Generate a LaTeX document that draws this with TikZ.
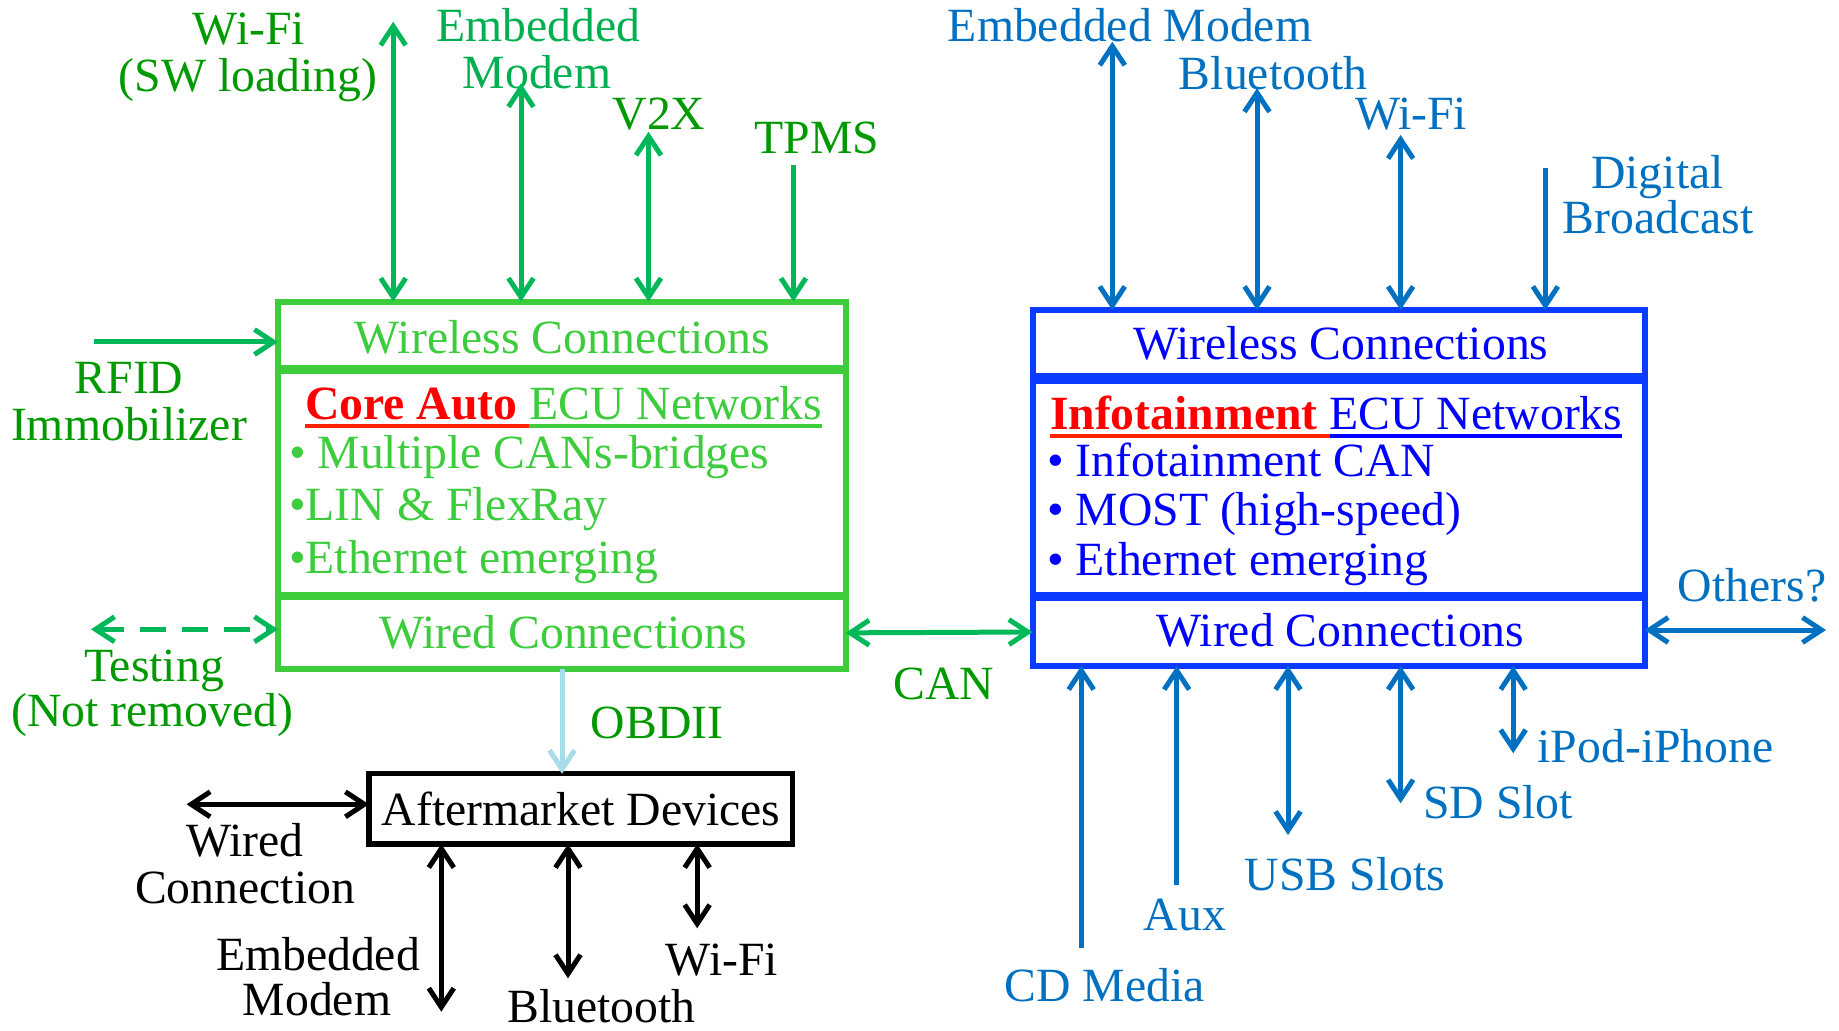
\documentclass[tikz,border=0pt]{standalone}
\usepackage{fontspec}
\setmainfont{Liberation Serif}
\usetikzlibrary{arrows.meta}
\definecolor{gdark}{HTML}{009900}
\definecolor{glight}{HTML}{00B050}
\definecolor{gframe}{HTML}{3CCC3C}
\definecolor{garrow}{HTML}{00B85A}
\definecolor{bline}{HTML}{0070C0}
\definecolor{bframe}{HTML}{0A3CFF}
\definecolor{btext}{HTML}{0000FF}
\definecolor{obdcol}{HTML}{A8DCE8}
\definecolor{ulred}{HTML}{FF2200}
\tikzset{
  hb/.tip={Straight Barb[length=9.5pt,width=12.5pt]},
  lbl/.style={inner sep=0pt, outer sep=0pt, anchor=base},
  lblw/.style={inner sep=0pt, outer sep=0pt, anchor=base west},
  frame/.style={draw, line width=3pt, inner sep=0pt, outer sep=0pt},
  conn/.style={line width=2.5pt},
  one/.style={conn, -hb},
  two/.style={conn, hb-hb},
}
\begin{document}
\begin{tikzpicture}[x=0.5pt,y=-0.5pt,every node/.style={font=\fontsize{23.85}{28}\selectfont}]
\useasboundingbox (0,0) rectangle (1839,1031);

% ---------- left (core auto) block ----------
\node[frame, draw=gframe, minimum width=283.8pt, minimum height=33.15pt] (lwl) at (561.8,334.85) {};
\node[frame, draw=gframe, minimum width=283.8pt, minimum height=112pt] (lcore) at (561.8,483) {};
\node[frame, draw=gframe, minimum width=283.8pt, minimum height=35.85pt] (lwired) at (561.8,632.85) {};

\node[lbl, text=gframe] (lwlt) at (562.5,353.3) {Wireless Connections};
\node[lblw, text=red] (coreA) at (305,419.3) {\textbf{Core Auto}\kern0.25em};
\node[lblw, text=gframe] (coreB) at (coreA.base east) {ECU Networks};
\draw[ulred, line width=2pt] ([yshift=-3.4pt]coreA.base west) -- ([yshift=-3.4pt]coreA.base east);
\draw[gframe, line width=2pt] ([yshift=-3.4pt]coreB.base west) -- ([yshift=-3.4pt]coreB.base east);
\node[lblw, text=gframe] (lb1) at (289,468.3) {• Multiple CANs-bridges};
\node[lblw, text=gframe] (lb2) at (289,520) {•LIN \& FlexRay};
\node[lblw, text=gframe] (lb3) at (289,573.3) {•Ethernet emerging};
\node[lbl, text=gframe] (lwiredt) at (563,648.3) {Wired Connections};

% top green labels and arrows
\node[lbl, text=gdark] (wifiA) at (249,45) {Wi-Fi};
\node[lbl, text=gdark] (wifiB) at (248,91.7) {(SW loading)};
\node[lbl, text=glight] (emA) at (538.5,41.7) {Embedded};
\node[lbl, text=glight] (emB) at (537,88.3) {Modem};
\node[lbl, text=gdark] (v2x) at (659,130) {V2X};
\node[lbl, text=gdark] (tpms) at (817,153.3) {TPMS};
\coordinate (gA) at (393.2,21.7);
\coordinate (gB) at (521,83.3);
\coordinate (gC) at (648.5,131.7);
\coordinate (gD) at (793.4,165);
\draw[two, garrow] (gA) -- (gA |- lwl.north);
\draw[two, garrow] (gB) -- (gB |- lwl.north);
\draw[two, garrow] (gC) -- (gC |- lwl.north);
\draw[one, garrow] (gD) -- (gD |- lwl.north);

% RFID
\node[lbl, text=gdark] (rfA) at (129,393.3) {RFID};
\node[lbl, text=gdark] (rfB) at (129,440) {Immobilizer};
\coordinate (rf) at (94,342);
\draw[one, garrow] (rf) -- (rf -| lwl.west);

% Testing
\node[lbl, text=gdark] (tsA) at (154,681.7) {Testing};
\node[lbl, text=gdark] (tsB) at (152.5,726.7) {(Not removed)};
\coordinate (tst) at (91,629.3);
\draw[two, garrow, dash pattern=on 13pt off 8pt] (tst) -- (tst -| lwired.west);

% right block frames and CAN
\node[frame, draw=bframe, minimum width=306.05pt, minimum height=33pt] (rwl) at (1338.55,343) {};
\node[frame, draw=bframe, minimum width=306.05pt, minimum height=107pt] (rcore) at (1338.55,488) {};
\node[frame, draw=bframe, minimum width=306.05pt, minimum height=34pt] (rwired) at (1338.55,632) {};
\draw[two, garrow] (lwired.east) -- (rwired.west);
\node[lbl, text=gdark] (can) at (944,699) {CAN};

% OBDII and aftermarket
\node[frame, draw=black, line width=2.6pt, minimum width=211.85pt, minimum height=35.15pt] (am) at (580.8,808.9) {};
\node[lbl] (amt) at (581,825) {Aftermarket Devices};
\coordinate (obdx) at (562,700);
\draw[one, obdcol] (obdx |- lwired.south) -- (obdx |- am.north);
\node[lbl, text=gdark] (obd) at (657,738.3) {OBDII};

\coordinate (wc) at (186.6,804.3);
\draw[two] (wc) -- (wc -| am.west);
\node[lbl] (wcA) at (245,856.7) {Wired};
\node[lbl] (wcB) at (245,903.3) {Connection};
\coordinate (kem) at (441.3,1011.7);
\coordinate (kbt) at (568,978.3);
\coordinate (kwf) at (697.2,928.3);
\draw[two] (kem |- am.south) -- (kem);
\draw[two] (kbt |- am.south) -- (kbt);
\draw[two] (kwf |- am.south) -- (kwf);
\node[lbl] (kemA) at (318,970) {Embedded};
\node[lbl] (kemB) at (317,1015) {Modem};
\node[lbl] (kbtt) at (601.5,1022) {Bluetooth};
\node[lbl] (kwft) at (722,975) {Wi-Fi};

% ---------- right (infotainment) block ----------
\node[lbl, text=btext] (rwlt) at (1340.7,360) {Wireless Connections};
\node[lblw, text=red] (infA) at (1050,429.3) {\textbf{Infotainment}\kern0.25em};
\node[lblw, text=btext] (infB) at (infA.base east) {ECU Networks};
\draw[ulred, line width=2pt] ([yshift=-3.6pt]infA.base west) -- ([yshift=-3.6pt]infA.base east);
\draw[btext, line width=2pt] ([yshift=-3.6pt]infB.base west) -- ([yshift=-3.6pt]infB.base east);
\node[lblw, text=btext] (rb1) at (1047,476.7) {• Infotainment CAN};
\node[lblw, text=btext] (rb2) at (1047,525) {• MOST (high-speed)};
\node[lblw, text=btext] (rb3) at (1047,575) {• Ethernet emerging};
\node[lbl, text=btext] (rwiredt) at (1340.5,646) {Wired Connections};

% top blue
\node[lbl, text=bline] (bemt) at (1130,41.7) {Embedded Modem};
\node[lbl, text=bline] (bbtt) at (1273,90) {Bluetooth};
\node[lbl, text=bline] (bwft) at (1411,129.3) {Wi-Fi};
\node[lbl, text=bline] (dgA) at (1657.5,188.3) {Digital};
\node[lbl, text=bline] (dgB) at (1658,233.3) {Broadcast};
\coordinate (bA) at (1112.3,41.7);
\coordinate (bB) at (1257,88.3);
\coordinate (bC) at (1400.6,135);
\coordinate (bD) at (1545.4,168.3);
\draw[two, bline] (bA) -- (bA |- rwl.north);
\draw[two, bline] (bB) -- (bB |- rwl.north);
\draw[two, bline] (bC) -- (bC |- rwl.north);
\draw[one, bline] (bD) -- (bD |- rwl.north);

% others
\coordinate (oth) at (1826,630);
\draw[two, bline] (rwired.east |- oth) -- (oth);
\node[lbl, text=bline] (otht) at (1752,601.7) {Others?};

% bottom blue
\coordinate (cd) at (1081.2,948.3);
\coordinate (aux) at (1176.7,885);
\coordinate (usb) at (1288,835);
\coordinate (sd) at (1400.6,803.3);
\coordinate (ipod) at (1513.2,753.3);
\draw[one, bline] (cd) -- (cd |- rwired.south);
\draw[one, bline] (aux) -- (aux |- rwired.south);
\draw[two, bline] (usb |- rwired.south) -- (usb);
\draw[two, bline] (sd |- rwired.south) -- (sd);
\draw[two, bline] (ipod |- rwired.south) -- (ipod);
\node[lbl, text=bline] (cdt) at (1104.7,1001.7) {CD Media};
\node[lbl, text=bline] (auxt) at (1185,930) {Aux};
\node[lbl, text=bline] (usbt) at (1345,890) {USB Slots};
\node[lbl, text=bline] (sdt) at (1498,818.3) {SD Slot};
\node[lbl, text=bline] (ipodt) at (1655.6,762.7) {iPod-iPhone};
\end{tikzpicture}
\end{document}
